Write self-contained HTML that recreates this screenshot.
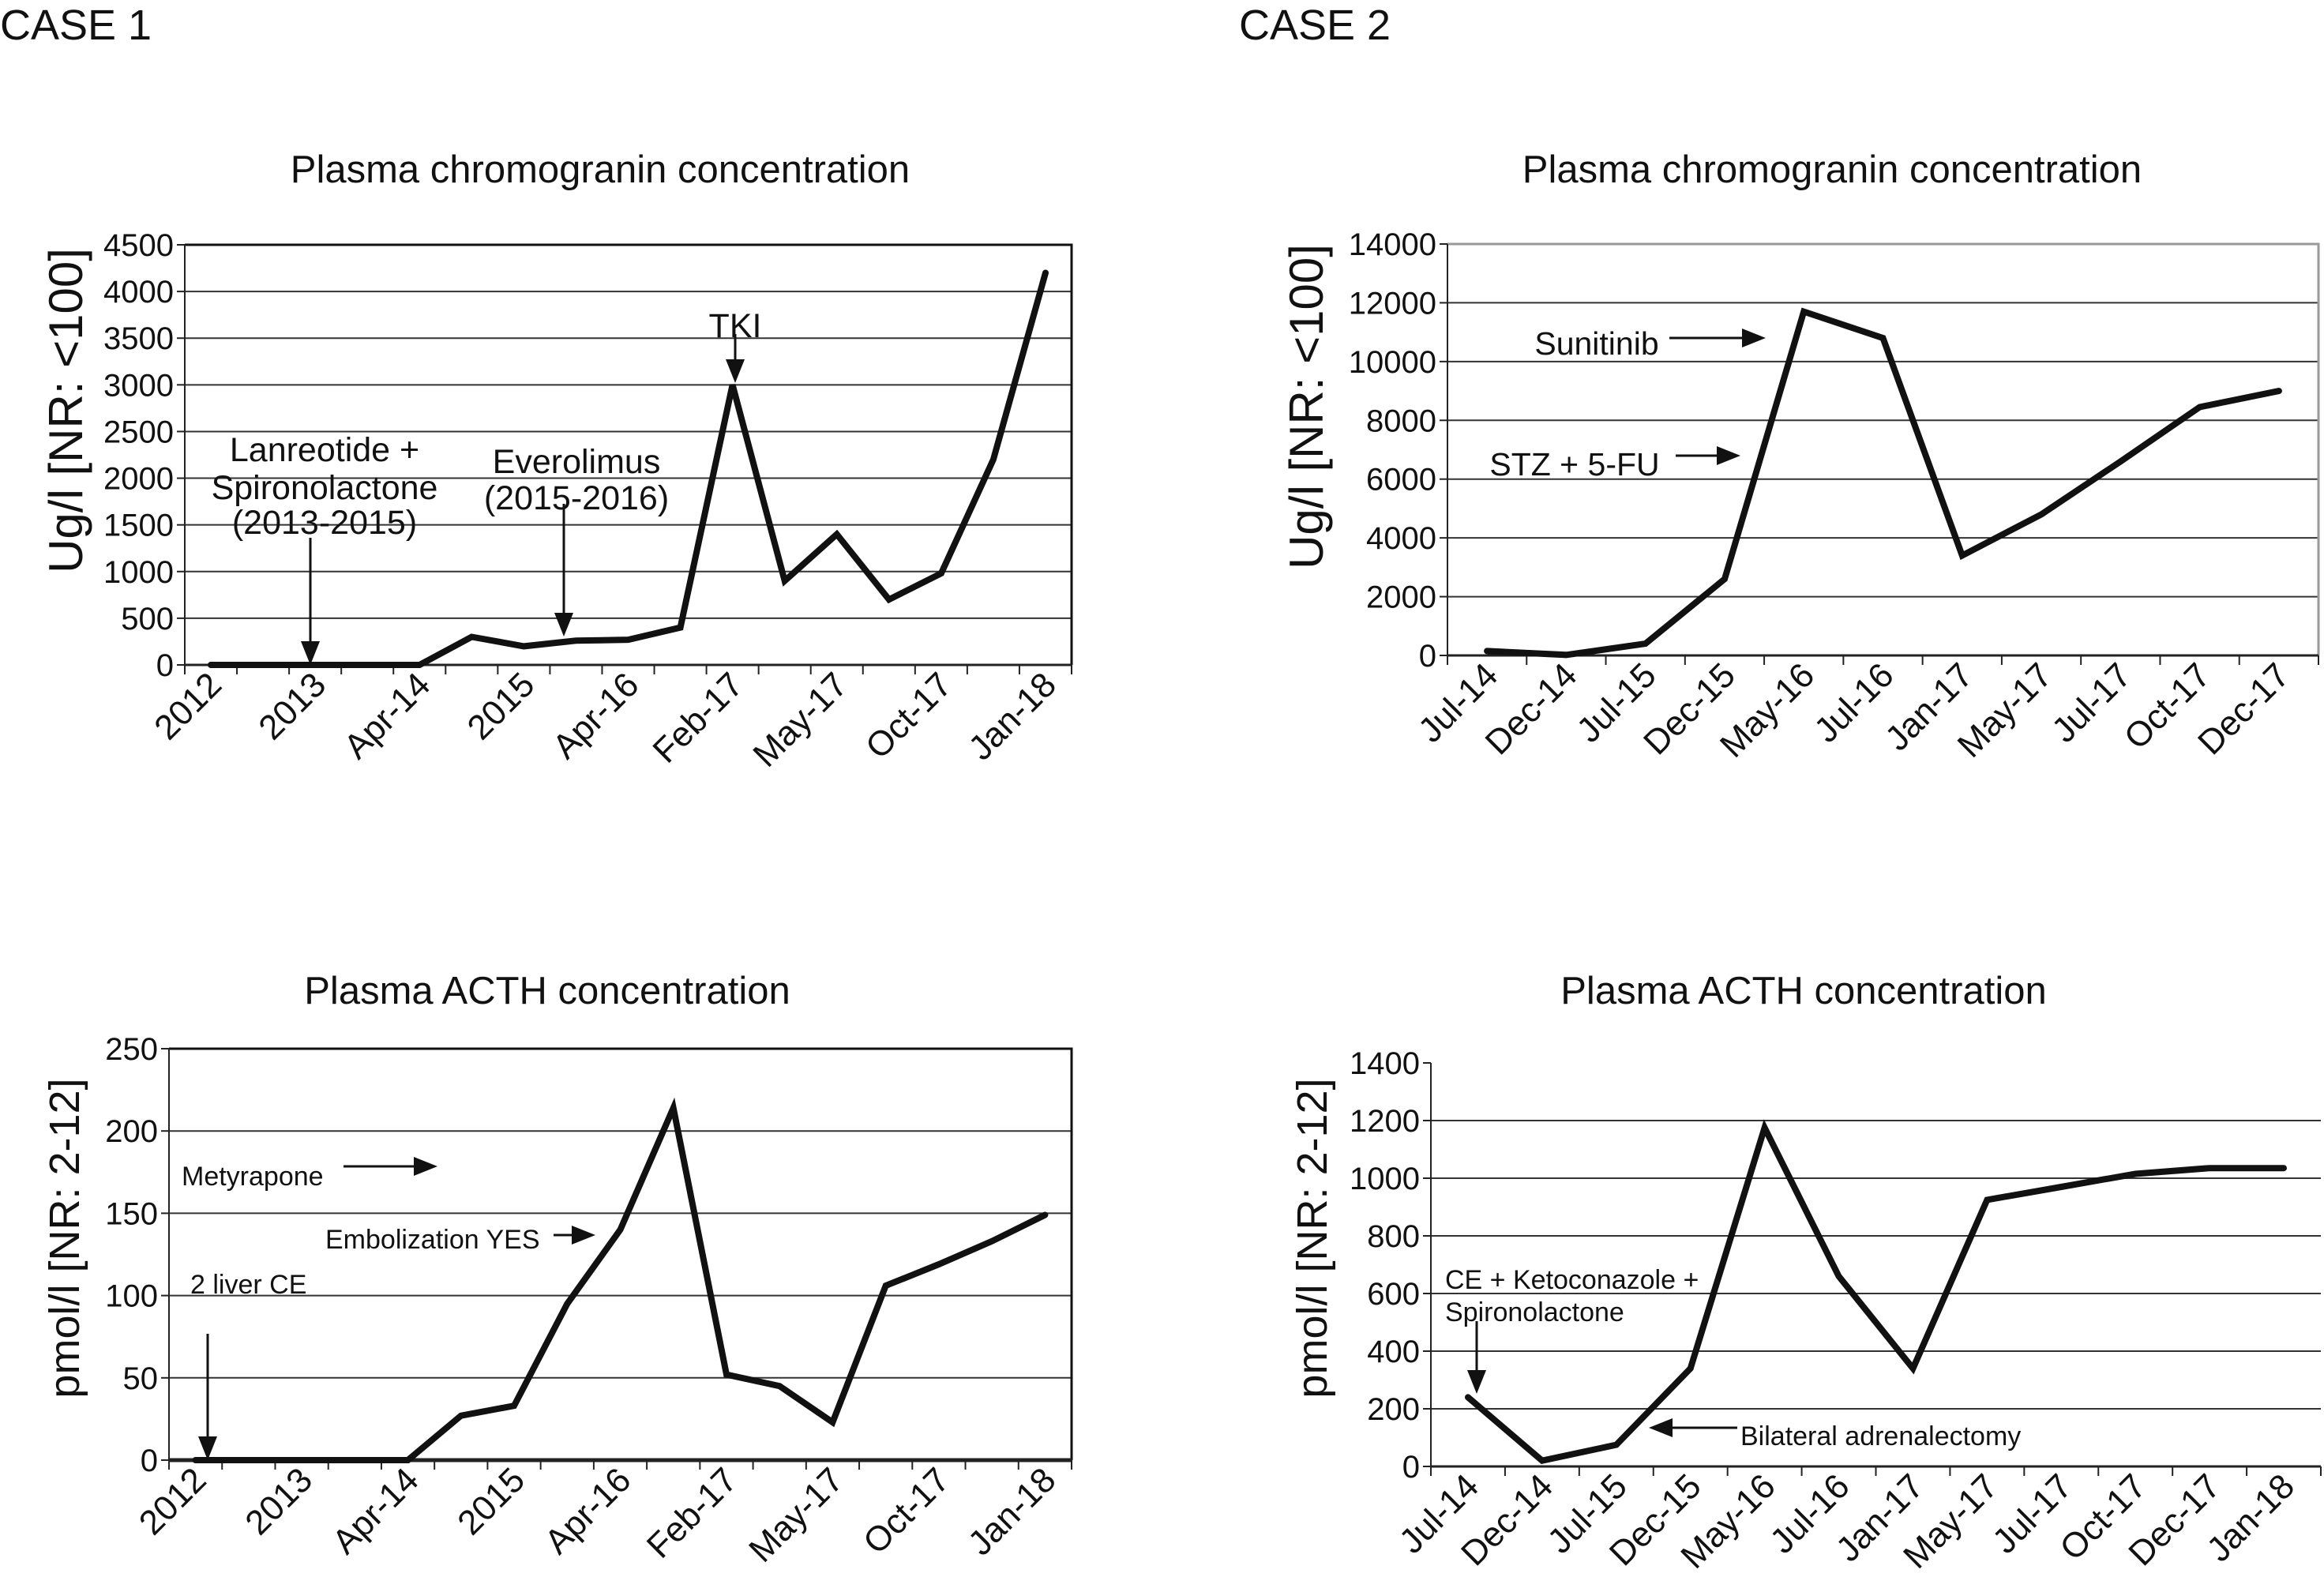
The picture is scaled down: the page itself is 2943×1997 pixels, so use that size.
<!DOCTYPE html>
<html><head><meta charset="utf-8">
<style>
html,body{margin:0;padding:0;background:#fff;}
svg{display:block;font-family:"Liberation Sans",Arial,sans-serif;}
</style></head>
<body>
<svg id="fig" width="2943" height="1997" viewBox="0 0 2943 1997" xmlns="http://www.w3.org/2000/svg">
<text x="0" y="50" font-size="54" fill="#111">CASE 1</text>
<text x="1569" y="50" font-size="54" fill="#111">CASE 2</text>
<text x="760" y="231" font-size="49" fill="#111" text-anchor="middle">Plasma chromogranin concentration</text>
<text x="2320" y="231" font-size="49" fill="#111" text-anchor="middle">Plasma chromogranin concentration</text>
<text x="693" y="1271" font-size="49" fill="#111" text-anchor="middle">Plasma ACTH concentration</text>
<text x="2284" y="1271" font-size="49" fill="#111" text-anchor="middle">Plasma ACTH concentration</text>

<text transform="translate(104,520) rotate(-90)" font-size="60" fill="#111" text-anchor="middle">Ug/l [NR: &lt;100]</text>
<text transform="translate(1675,515) rotate(-90)" font-size="60" fill="#111" text-anchor="middle">Ug/l [NR: &lt;100]</text>
<text transform="translate(100,1568) rotate(-90)" font-size="54" fill="#111" text-anchor="middle">pmol/l [NR: 2-12]</text>
<text transform="translate(1680,1568) rotate(-90)" font-size="54" fill="#111" text-anchor="middle">pmol/l [NR: 2-12]</text>

<g id="charts"></g>

<g fill="#111" font-size="43">
<text x="411" y="584" text-anchor="middle">Lanreotide +</text>
<text x="411" y="632" text-anchor="middle">Spironolactone</text>
<text x="411" y="676" text-anchor="middle">(2013-2015)</text>
<text x="730" y="599" text-anchor="middle">Everolimus</text>
<text x="730" y="645" text-anchor="middle">(2015-2016)</text>
<text x="931" y="427" text-anchor="middle">TKI</text>
<text x="2022" y="449" font-size="41" text-anchor="middle">Sunitinib</text>
<text x="1994" y="602" font-size="41" text-anchor="middle">STZ + 5-FU</text>
<text x="230" y="1501" font-size="34">Metyrapone</text>
<text x="412" y="1581" font-size="34">Embolization YES</text>
<text x="241" y="1638" font-size="34">2 liver CE</text>
<text x="1830" y="1632" font-size="34">CE + Ketoconazole +</text>
<text x="1830" y="1673" font-size="34">Spironolactone</text>
<text x="2204" y="1830" font-size="34">Bilateral adrenalectomy</text>
</g>
<g id="arrows"></g>
</svg>
<script>
// ---- data ----
const c1Labels = ["2012","","2013","","Apr-14","","2015","","Apr-16","","Feb-17","","May-17","","Oct-17","","Jan-18"];
const c1Chromo = [0,0,0,0,0,300,200,260,270,400,3000,900,1400,700,980,2200,4200];
const c1ChromoTicks = [0,500,1000,1500,2000,2500,3000,3500,4000,4500];

const c2Labels = ["Jul-14","Dec-14","Jul-15","Dec-15","May-16","Jul-16","Jan-17","May-17","Jul-17","Oct-17","Dec-17"];
const c2Chromo = [150,20,400,2600,11700,10800,3400,4800,6600,8450,9000];
const c2ChromoTicks = [0,2000,4000,6000,8000,10000,12000,14000];

const c1Acth = [0,0,0,0,0,27,33,95,140,214,52,45,23,106,119,133,149];
const c1ActhTicks = [0,50,100,150,200,250];

const c2ActhLabels = ["Jul-14","Dec-14","Jul-15","Dec-15","May-16","Jul-16","Jan-17","May-17","Jul-17","Oct-17","Dec-17","Jan-18"];
const c2Acth = [240,20,75,340,1175,660,340,925,970,1015,1035,1035];
const c2ActhTicks = [0,200,400,600,800,1000,1200,1400];

const NS="http://www.w3.org/2000/svg";
const root=document.getElementById('charts');
function mk(tag,attrs,parent){const e=document.createElementNS(NS,tag);for(const k in attrs)e.setAttribute(k,attrs[k]);(parent||root).appendChild(e);return e;}

function chart(id,box,labels,values,ticks,opt){
  const g=mk('g',{});
  
  
  const n=values.length, slot=(box.r-box.l)/n, ymax=ticks[ticks.length-1];
  const xf=i=>box.l+slot*(i+0.5);
  const yf=v=>box.b-(v/ymax)*(box.b-box.t);
  ticks.forEach((t,i)=>{
    const y=yf(t);
    if(t>0 && !(opt.noTopGrid && t===ymax)){
      const gl=mk('line',{x1:box.l,x2:box.r,y1:y,y2:y,stroke:'#333','stroke-width':2},g);
      
      
    }
    mk('line',{x1:box.l-10,x2:box.l,y1:y,y2:y,stroke:'#222','stroke-width':2},g);
    const tl=mk('text',{x:box.l-14,y:y+14,'font-size':40,'text-anchor':'end',fill:'#111'},g);
    tl.textContent=t;
    
    
  });
  for(let i=0;i<=n;i++){const x=box.l+slot*i;mk('line',{x1:x,x2:x,y1:box.b,y2:box.b+12,stroke:'#222','stroke-width':2},g);}
  labels.forEach((s,i)=>{
    if(!s)return;
    const x=xf(i)+16,y=box.b+28;
    const tl=mk('text',{transform:`translate(${x},${y}) rotate(-45)`,'font-size':44,'text-anchor':'end',fill:'#111'},g);
    tl.textContent=s;
    
    
  });
  if(opt.frame) mk('path',{d:`M${box.l},${box.t}H${box.r}V${box.b}`,fill:'none',stroke:opt.frame,'stroke-width':opt.frameW||3},g);
  mk('line',{x1:box.l,x2:box.l,y1:box.t,y2:box.b,stroke:'#222','stroke-width':2},g);
  mk('line',{x1:box.l,x2:box.r,y1:box.b,y2:box.b,stroke:'#222','stroke-width':opt.baseW||3},g);
  const pts=values.map((v,i)=>xf(i).toFixed(1)+','+yf(v).toFixed(1)).join(' ');
  const pl=mk('polyline',{points:pts,fill:'none',stroke:'#111','stroke-width':8,'stroke-linejoin':'miter','stroke-linecap':'round'},g);
  
  
}
chart('case1-chromogranin',{l:234,r:1357,t:310,b:842},c1Labels,c1Chromo,c1ChromoTicks,{frame:'#111',frameW:3});
chart('case2-chromogranin',{l:1833,r:2936,t:309,b:830},c2Labels,c2Chromo,c2ChromoTicks,{frame:'#999',frameW:3});
chart('case1-acth',{l:214,r:1357,t:1328,b:1849},c1Labels,c1Acth,c1ActhTicks,{frame:'#111',frameW:3,baseW:5});
chart('case2-acth',{l:1812,r:2939,t:1346,b:1857},c2ActhLabels,c2Acth,c2ActhTicks,{noTopGrid:true});

const ar=document.getElementById('arrows');
function arrow(name,x1,y1,x2,y2){
  const g=mk('g',{},ar);
  
  
  const dx=x2-x1,dy=y2-y1,L=Math.hypot(dx,dy),ux=dx/L,uy=dy/L,h=30,w=12;
  const bx=x2-ux*h,by=y2-uy*h;
  mk('line',{x1:x1,y1:y1,x2:bx,y2:by,stroke:'#111','stroke-width':3},g);
  mk('polygon',{points:`${x2},${y2} ${bx-uy*w},${by+ux*w} ${bx+uy*w},${by-ux*w}`,fill:'#111'},g);
}
arrow('lanreotide-arrow',393,681,393,842);
arrow('everolimus-arrow',714,638,714,806);
arrow('tki-arrow',931,423,931,485);
arrow('sunitinib-arrow',2114,428,2236,428);
arrow('stz-arrow',2122,577,2204,577);
arrow('metyrapone-arrow',435,1477,554,1477);
arrow('embolization-arrow',701,1564,754,1564);
arrow('liver-ce-arrow',263,1689,263,1849);
arrow('ketoconazole-arrow',1870,1673,1870,1765);
arrow('adrenalectomy-arrow',2200,1808,2088,1808);
</script>
</body></html>
